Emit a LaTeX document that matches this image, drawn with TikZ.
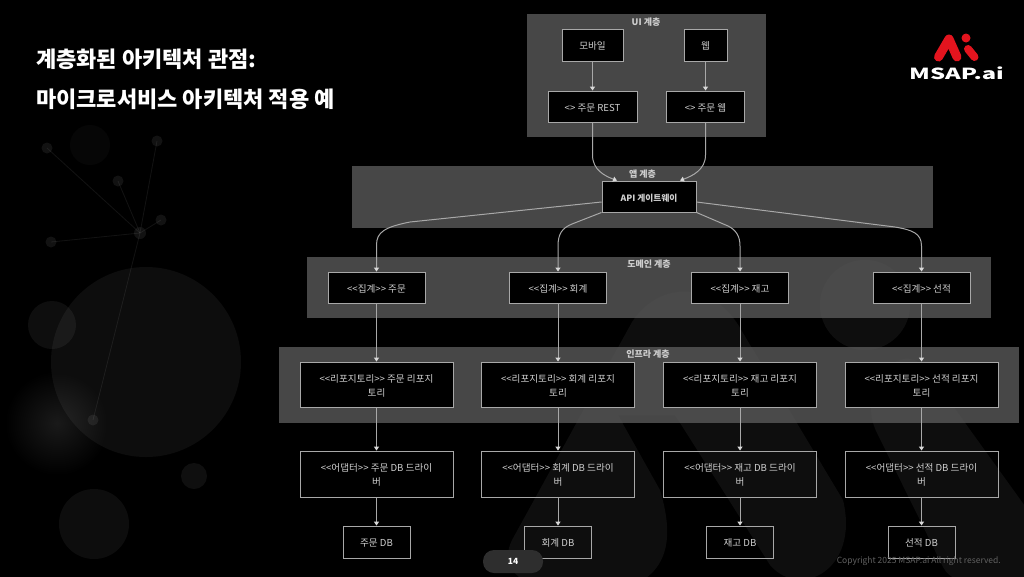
\documentclass[tikz,border=0pt]{standalone}
\usepackage{fontspec}
\setmainfont{Noto Sans CJK KR}
\usepackage{tikz}
\usetikzlibrary{arrows.meta, positioning}
\definecolor{layergray}{HTML}{5C5C5C}
\definecolor{edgegray}{HTML}{A8A8A8}
\definecolor{textgray}{HTML}{D0D0D0}
\definecolor{markgray}{HTML}{0E0E0E}
\definecolor{msapred}{HTML}{E3141E}
\tikzset{
	layerbox/.style={shape=rectangle, draw=none, fill=layergray, fill opacity=0.78},
	layerlabel/.style={text=textgray, font=\fontsize{9}{10}\selectfont\bfseries, inner sep=0pt},
	partbox/.style={shape=rectangle, draw=edgegray, line width=0.9pt, fill=black, text=textgray, align=center, font=\fontsize{9.6}{14}\selectfont, inner sep=1pt, text height=9pt, text depth=0pt},
	openbox/.style={partbox, fill=none},
	twoline/.style={text height=23pt, text depth=0pt},
	link/.style={draw=edgegray, line width=1pt, -{Triangle[width=5pt, length=4pt, color=white!85!black]}},
	faintdot/.style={white, opacity=0.07},
}
\begin{document}
\begin{tikzpicture}[x=1pt, y=-1pt]
\useasboundingbox (0,0) rectangle (1024,576);
\fill[black] (-3,-3) rectangle (1027,579);
% backdrop
\shade[inner color=black!90!white, outer color=black] (57,423) circle (52);
\fill[white, opacity=0.05] (146,362) circle (95);
\fill[white, opacity=0.055] (52,325) circle (24);
\fill[white, opacity=0.06] (194,476) circle (13);
\fill[white, opacity=0.05] (94,524) circle (35);
\fill[white, opacity=0.025] (90,145) circle (20);
\foreach \px/\py in {47/148, 157/141, 118/181, 161/220, 51/242, 93/420}{
	\draw[faintdot, line width=0.8pt] (140,233) -- (\px,\py);
	\fill[faintdot] (\px,\py) circle (5.5);
}
\fill[faintdot] (140,233) circle (6);
\fill[markgray] (632,322) -- (512,540) .. controls (490,585) and (560,600) .. (620,590) .. controls (675,575) and (672,530) .. (660,490) -- (618,415) -- (675,415) -- (770,565) .. controls (800,600) and (860,570) .. (843,500) -- (743,333) .. controls (715,280) and (660,280) .. (632,322) -- cycle;
\fill[markgray] (877,433) -- (943,567) .. controls (950,580) and (960,580) .. (970,580) -- (1030,580) -- (1030,513) -- (927,370) .. controls (900,335) and (855,390) .. (877,433) -- cycle;
\fill[markgray] (865,305) circle (45);
% title
\node[anchor=west, inner sep=0pt, text=white, font=\fontsize{22}{26}\selectfont\bfseries] (title1) at (36,59) {계층화된 아키텍처 관점:};
\node[anchor=west, inner sep=0pt, text=white, font=\fontsize{22}{26}\selectfont\bfseries] (title2) at (36,99) {마이크로서비스 아키텍처 적용 예};
% logo
\draw[msapred, line width=9pt, line cap=round, line join=round] (938.5,57) -- (949,39) -- (957,57);
\draw[msapred, line width=8pt, line cap=round] (968,49) -- (974.5,57);
\fill[msapred] (966,38) circle (4.5);
\node[xscale=1.55, transform shape, inner sep=0pt, text=white, font=\fontsize{15.3}{16}\selectfont\bfseries] (logo) at (956.5,73.5) {MSAP.ai};
% layers
\node[layerbox, minimum width=239pt, minimum height=123pt] (uilayer) at (646.5,75.5) {};
\node[layerbox, minimum width=581pt, minimum height=62pt] (applayer) at (642.5,197) {};
\node[layerbox, minimum width=684pt, minimum height=61pt] (domainlayer) at (649,287.5) {};
\node[layerbox, minimum width=740pt, minimum height=76pt] (infralayer) at (649,385) {};
\node[layerlabel] (uilabel) at (646,22) {UI 계층};
\node[layerlabel] (applabel) at (642.5,174) {앱 계층};
\node[layerlabel] (domainlabel) at (649,264) {도메인 계층};
\node[layerlabel] (infralabel) at (648,354) {인프라 계층};
% top nodes
\node[partbox, minimum width=61pt, minimum height=32pt] (mobile) at (592.5,45) {모바일};
\node[partbox, minimum width=43pt, minimum height=32pt] (web) at (705.5,45) {웹};
\node[partbox, minimum width=89pt, minimum height=31pt] (rest) at (592.5,106.5) {<> 주문 REST};
\node[partbox, minimum width=78pt, minimum height=31pt] (webapp) at (705.5,106.5) {<> 주문 웹};
\node[partbox, minimum width=94pt, minimum height=31pt, font=\fontsize{8.7}{14}\selectfont\bfseries] (api) at (649,196.5) {API 게이트웨이};
% four columns
\foreach \i/\x/\nm in {1/376.5/주문, 2/558/회계, 3/740/재고, 4/921.5/선적}{
	\node[partbox, minimum width=97pt, minimum height=31pt] (agg\i) at (\x,287.5) {<{}<집계>{}> \nm};
	\node[partbox, twoline, minimum width=153pt, minimum height=45pt] (repo\i) at (\x,384.5) {<{}<리포지토리>{}> \nm{} 리포지\\토리};
	\node[openbox, twoline, minimum width=153pt, minimum height=46pt] (adapt\i) at (\x,474) {<{}<어댑터>{}> \nm{} DB 드라이\\버};
	\node[openbox, minimum width=67pt, minimum height=32pt] (db\i) at (\x,542) {\nm{} DB};
	\draw[link] (agg\i) -- (repo\i);
	\draw[link] (repo\i) -- (adapt\i);
	\draw[link] (adapt\i) -- (db\i);
}
% links
\draw[link] (mobile) -- (rest);
\draw[link] (web) -- (webapp);
\draw[link] (rest.south) -- (592.5,155) .. controls (592.5,170) and (605,176) .. ([xshift=-32pt]api.north);
\draw[link] (webapp.south) -- (705.5,155) .. controls (705.5,170) and (692,176) .. ([xshift=31pt]api.north);
\draw[link] ([yshift=-5.5pt]api.west) -- (410,222) .. controls (385,227) and (376.5,232) .. (376.5,245) -- (agg1.north);
\draw[link] (api.south west) -- (572,224) .. controls (562,228) and (558,234) .. (558,246) -- (agg2.north);
\draw[link] (api.south east) -- (728,226) .. controls (736,230) and (740,236) .. (740,246) -- (agg3.north);
\draw[link] ([yshift=-5.5pt]api.east) -- (895,227) .. controls (912,230) and (921.5,233) .. (921.5,246) -- (agg4.north);
% footer
\node[shape=rectangle, rounded corners=11pt, fill=black!82!white, minimum width=60pt, minimum height=23pt, text=white, font=\fontsize{8.5}{10}\selectfont\bfseries, inner sep=0pt] (page) at (513,561.5) {14};
\node[anchor=east, inner sep=0pt, text=black!62!white, font=\fontsize{8.5}{9}\selectfont] (copyright) at (1001,561.5) {Copyright 2025 MSAP.ai All right reserved.};
\end{tikzpicture}
\end{document}
